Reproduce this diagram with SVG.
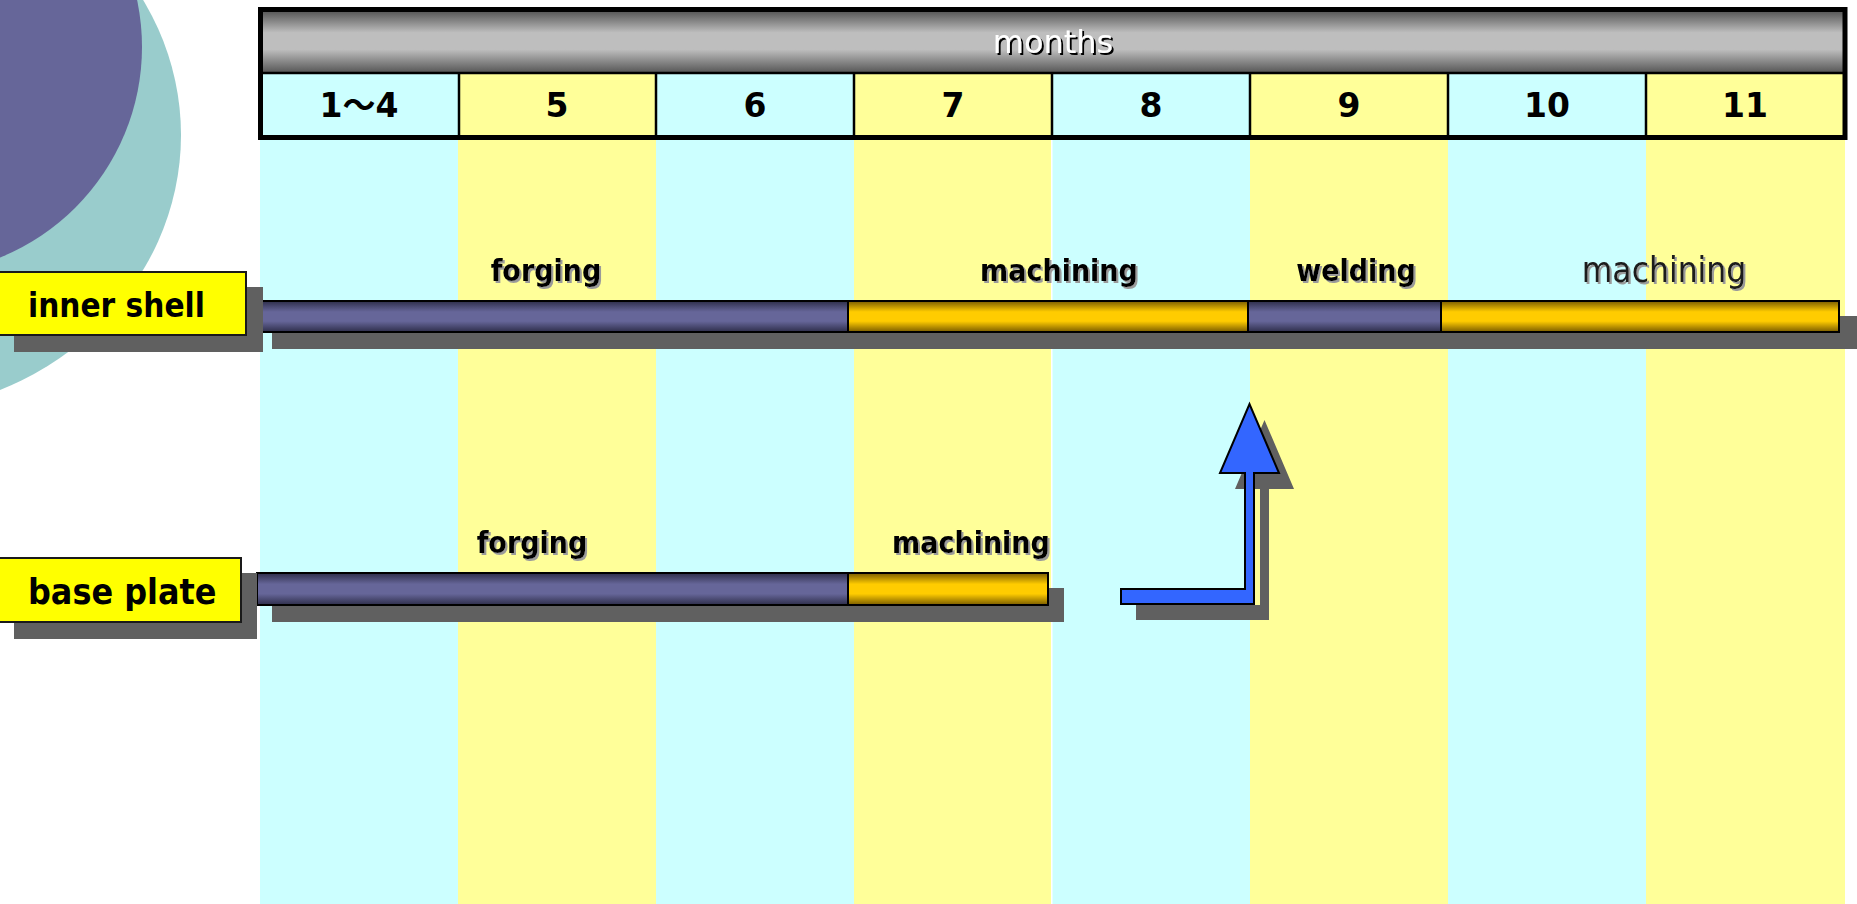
<svg xmlns="http://www.w3.org/2000/svg" width="1857" height="904" viewBox="0 0 1857 904">
  <style>
    .cy { fill: #CCFFFF; }
    .ye { fill: #FFFF99; }
    .shadow { fill: #606060; }
    .num { font-family: "DejaVu Sans", "Noto Sans CJK KR", sans-serif; font-weight: bold; font-size: 33px; text-anchor: middle; fill: #000; }
    .lbl { font-family: "DejaVu Sans Condensed", "DejaVu Sans", sans-serif; font-weight: bold; fill: #000; }
    .task { font-family: "DejaVu Sans Condensed", "DejaVu Sans", sans-serif; font-weight: bold; font-size: 30px; text-anchor: middle; fill: #000; filter: url(#tshadow); }
    .task2 { font-family: "DejaVu Sans Condensed", "DejaVu Sans", sans-serif; font-size: 35px; text-anchor: middle; fill: #1a1a1a; filter: url(#tshadow); }
    .purple { fill: url(#gPurple); stroke: #000; stroke-width: 2; }
    .gold { fill: url(#gGold); stroke: #000; stroke-width: 2; }
    .labelbox { fill: #FFFF00; stroke: #1a1a1a; stroke-width: 2; }
    .div { stroke: #000; stroke-width: 2.5; }
  </style>
  <defs>
    <linearGradient id="gHead" x1="0" y1="0" x2="0" y2="1">
      <stop offset="0" stop-color="#555555"/>
      <stop offset="0.35" stop-color="#bebebe"/>
      <stop offset="0.62" stop-color="#bebebe"/>
      <stop offset="1" stop-color="#555555"/>
    </linearGradient>
    <linearGradient id="gPurple" x1="0" y1="0" x2="0" y2="1">
      <stop offset="0" stop-color="#2e2e4a"/>
      <stop offset="0.35" stop-color="#666699"/>
      <stop offset="0.65" stop-color="#666699"/>
      <stop offset="1" stop-color="#2e2e4a"/>
    </linearGradient>
    <linearGradient id="gGold" x1="0" y1="0" x2="0" y2="1">
      <stop offset="0" stop-color="#7a5c00"/>
      <stop offset="0.35" stop-color="#ffcc00"/>
      <stop offset="0.65" stop-color="#ffcc00"/>
      <stop offset="1" stop-color="#7a5c00"/>
    </linearGradient>
    <filter id="tshadow" x="-10%" y="-20%" width="130%" height="150%">
      <feDropShadow dx="2" dy="2" stdDeviation="0.4" flood-color="#9a9a9a" flood-opacity="1"/>
    </filter>
    <filter id="hshadow" x="-10%" y="-20%" width="130%" height="150%">
      <feDropShadow dx="2" dy="2" stdDeviation="0.3" flood-color="#000000" flood-opacity="1"/>
    </filter>
  </defs>

  <rect x="0" y="0" width="1857" height="904" fill="#ffffff"/>

  <!-- background decoration -->
  <g id="decoration">
    <ellipse cx="-120" cy="135" rx="301" ry="278" fill="#99CCCC"/>
    <circle cx="-85" cy="47" r="227" fill="#666699"/>
  </g>

  <!-- month column strips -->
  <g id="columns">
    <rect class="cy" x="260" y="140" width="198" height="764"/>
    <rect class="ye" x="458" y="140" width="198" height="764"/>
    <rect class="cy" x="656" y="140" width="198" height="764"/>
    <rect class="ye" x="854" y="140" width="197" height="764"/>
    <rect class="cy" x="1052.5" y="140" width="197.5" height="764"/>
    <rect class="ye" x="1250" y="140" width="198" height="764"/>
    <rect class="cy" x="1448" y="140" width="198" height="764"/>
    <rect class="ye" x="1646" y="140" width="199" height="764"/>
  </g>

  <!-- header -->
  <g id="header">
    <rect x="262" y="11" width="1582" height="62" fill="url(#gHead)"/>
    <rect class="cy" x="262" y="74" width="196" height="62"/>
    <rect class="ye" x="458" y="74" width="198" height="62"/>
    <rect class="cy" x="656" y="74" width="198" height="62"/>
    <rect class="ye" x="854" y="74" width="198" height="62"/>
    <rect class="cy" x="1052" y="74" width="198" height="62"/>
    <rect class="ye" x="1250" y="74" width="198" height="62"/>
    <rect class="cy" x="1448" y="74" width="198" height="62"/>
    <rect class="ye" x="1646" y="74" width="198" height="62"/>
    <line class="div" x1="262" y1="73" x2="1844" y2="73"/>
    <line class="div" x1="459" y1="73" x2="459" y2="136"/>
    <line class="div" x1="656" y1="73" x2="656" y2="136"/>
    <line class="div" x1="854" y1="73" x2="854" y2="136"/>
    <line class="div" x1="1052" y1="73" x2="1052" y2="136"/>
    <line class="div" x1="1250" y1="73" x2="1250" y2="136"/>
    <line class="div" x1="1448" y1="73" x2="1448" y2="136"/>
    <line class="div" x1="1646" y1="73" x2="1646" y2="136"/>
    <rect x="260.5" y="9.5" width="1584.5" height="128" fill="none" stroke="#000" stroke-width="5"/>
    <text x="1053" y="53" font-family="DejaVu Sans, sans-serif" font-size="32" text-anchor="middle" fill="#ffffff" filter="url(#hshadow)">months</text>
    <text class="num" x="359" y="117">1～4</text>
    <text class="num" x="557" y="117">5</text>
    <text class="num" x="755" y="117">6</text>
    <text class="num" x="953" y="117">7</text>
    <text class="num" x="1151" y="117">8</text>
    <text class="num" x="1349" y="117">9</text>
    <text class="num" x="1547" y="117">10</text>
    <text class="num" x="1745" y="117">11</text>
  </g>

  <!-- inner shell row -->
  <g id="inner-shell-bar">
    <rect class="shadow" x="272" y="316" width="1585" height="33"/>
    <rect class="purple" x="257" y="301" width="591" height="31"/>
    <rect class="gold" x="848" y="301" width="400" height="31"/>
    <rect class="purple" x="1248" y="301" width="193" height="31"/>
    <rect class="gold" x="1441" y="301" width="398" height="31"/>
  </g>
  <g id="inner-shell-label">
    <rect class="shadow" x="14" y="287" width="249" height="65"/>
    <rect class="labelbox" x="-1" y="272" width="247" height="63"/>
    <text class="lbl" x="28" y="317" font-size="33">inner shell</text>
  </g>
  <g id="inner-shell-tasks">
    <text class="task" x="546" y="281">forging</text>
    <text class="task" x="1059" y="281">machining</text>
    <text class="task" x="1356" y="281">welding</text>
    <text class="task2" x="1664" y="282">machining</text>
  </g>

  <!-- base plate row -->
  <g id="base-plate-bar">
    <rect class="shadow" x="272" y="588" width="792" height="34"/>
    <rect class="purple" x="257" y="573" width="591" height="32"/>
    <rect class="gold" x="848" y="573" width="200" height="32"/>
  </g>
  <g id="base-plate-label">
    <rect class="shadow" x="14" y="573" width="243" height="66"/>
    <rect class="labelbox" x="-1" y="558" width="242" height="64"/>
    <text class="lbl" x="28" y="604" font-size="35.5">base plate</text>
  </g>
  <g id="base-plate-tasks">
    <text class="task" x="532" y="553">forging</text>
    <text class="task" x="971" y="553">machining</text>
  </g>

  <!-- connector -->
  <g id="connectors">
    <polygon class="shadow" transform="translate(15,16)" points="1121,589 1245,589 1245,473 1220,473 1249.5,404 1279,473 1254,473 1254,604 1121,604"/>
    <polygon points="1121,589 1245,589 1245,473 1220,473 1249.5,404 1279,473 1254,473 1254,604 1121,604" fill="#3366FF" stroke="#000" stroke-width="2" stroke-linejoin="miter"/>
  </g>
</svg>
